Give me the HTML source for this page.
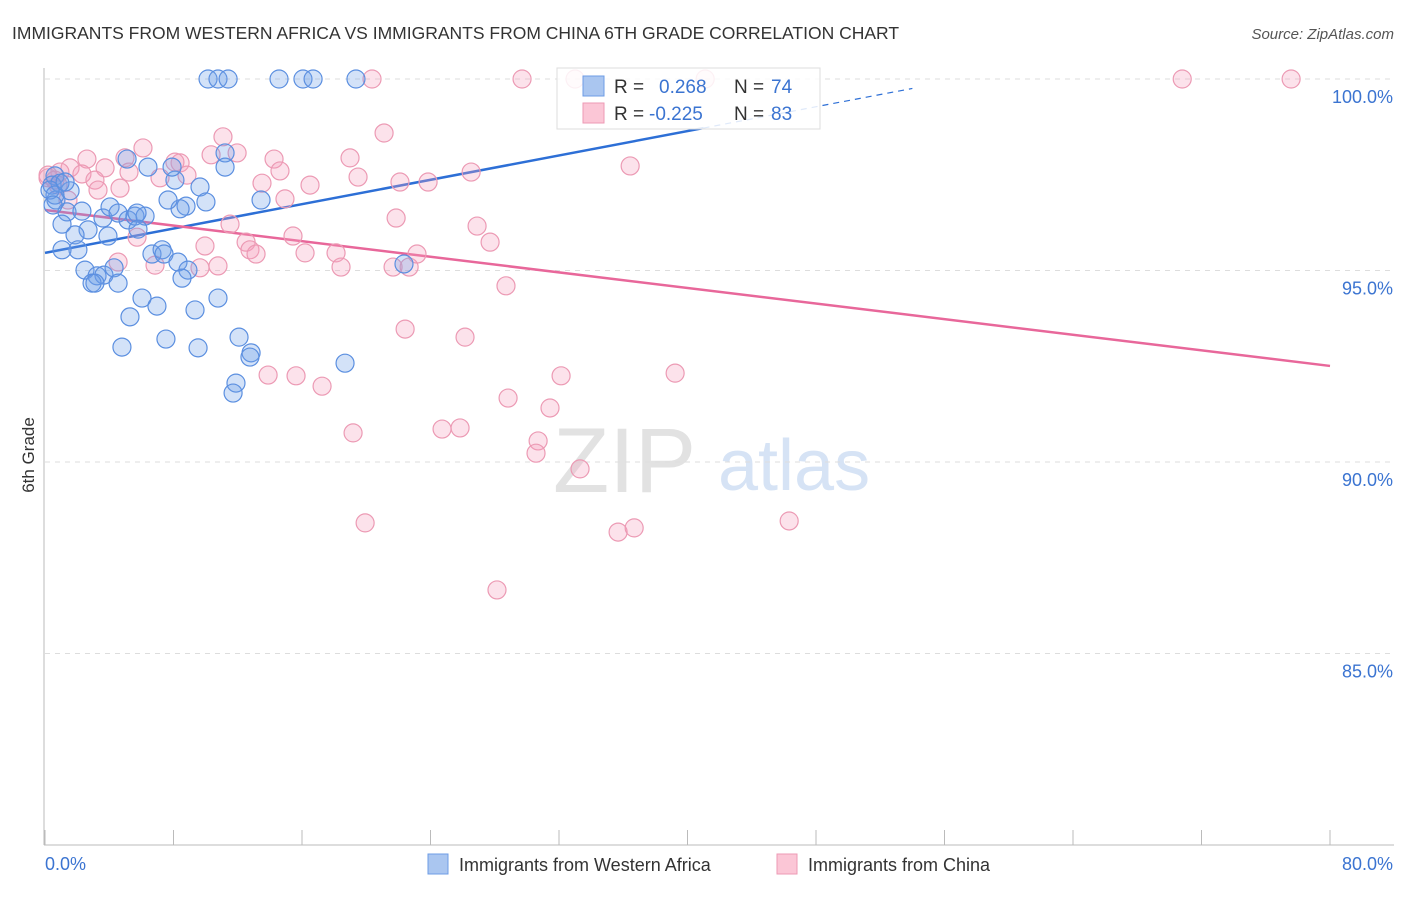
<!DOCTYPE html>
<html><head><meta charset="utf-8"><style>
body{margin:0;background:#fff;font-family:"Liberation Sans",sans-serif;}
svg text{font-family:"Liberation Sans",sans-serif;}
</style></head><body>
<svg id="chart" width="1406" height="892">
<text x="12" y="39" font-size="17.5" fill="#333">IMMIGRANTS FROM WESTERN AFRICA VS IMMIGRANTS FROM CHINA 6TH GRADE CORRELATION CHART</text>
<text x="1394" y="39" font-size="15" fill="#555" font-style="italic" text-anchor="end">Source: ZipAtlas.com</text>
<text transform="translate(34,455) rotate(-90)" font-size="17" fill="#333" text-anchor="middle">6th Grade</text>
<g><text x="553" y="492" font-size="92" fill="#e2e2e2" font-family="Liberation Serif">ZIP</text><text x="718" y="490" font-size="72" fill="#d6e3f5">atlas</text></g>
<g id="grid"></g><g id="axes"></g><g id="trend"></g><g id="pts"></g>
<g>
<rect x="557" y="68" width="263" height="61" fill="#fff" fill-opacity="0.85" stroke="#ddd"/>
<rect x="583" y="76" width="21" height="20" fill="#aac6f0" stroke="#6d9ce6"/>
<text x="614" y="93" font-size="19" fill="#333">R = </text><text x="659" y="93" font-size="19" fill="#3b74d1">0.268</text>
<text x="734" y="93" font-size="19" fill="#333">N = </text><text x="771" y="93" font-size="19" fill="#3b74d1">74</text>
<rect x="583" y="103" width="21" height="20" fill="#fbc6d6" stroke="#ee9ab4"/>
<text x="614" y="120" font-size="19" fill="#333">R = </text><text x="649" y="120" font-size="19" fill="#3b74d1">-0.225</text>
<text x="734" y="120" font-size="19" fill="#333">N = </text><text x="771" y="120" font-size="19" fill="#3b74d1">83</text>
</g>
<g>
<rect x="428" y="854" width="20" height="20" fill="#aac6f0" stroke="#6d9ce6"/>
<text x="459" y="871" font-size="18" fill="#333">Immigrants from Western Africa</text>
<rect x="777" y="854" width="20" height="20" fill="#fbc6d6" stroke="#ee9ab4"/>
<text x="808" y="871" font-size="18" fill="#333">Immigrants from China</text>
</g>
</svg>
<script>
const blueX=[10.15,10.77,11.40,14.57,16.06,16.69,19.36,5.11,11.21,6.41,8.09,9.65,7.91,11.21,13.45,10.02,8.78,8.41,7.66,0.62,0.44,0.68,1.56,1.37,2.30,1.06,2.68,1.87,3.61,4.05,4.55,5.17,5.60,6.23,5.73,5.79,3.92,2.05,1.06,2.49,3.24,3.67,2.93,3.11,4.30,4.55,6.04,6.97,5.29,9.34,10.77,7.53,4.79,9.53,6.66,7.29,7.41,8.28,8.90,8.53,12.08,12.83,12.76,11.89,11.71,18.68,22.35,0.93,0.31,0.62,1.25,0.50];
const blueY=[100,100,100,100,100,100,100,97.91,98.07,97.70,97.36,97.18,97.70,97.70,96.84,96.79,96.68,96.61,96.84,97.47,97.23,96.84,97.08,96.53,96.55,96.21,96.06,95.93,96.37,96.66,96.50,96.32,96.42,96.42,96.50,96.08,95.90,95.54,95.54,95.01,94.86,94.88,94.67,94.67,95.07,94.67,94.28,94.07,93.79,93.97,94.28,93.21,93.00,92.98,95.43,95.54,95.43,95.22,95.01,94.80,93.26,92.85,92.74,92.06,91.80,92.58,95.17,97.28,97.10,96.97,97.31,96.71];
const pinkX=[20.36,29.70,33.00,41.10,70.80,77.58,21.11,11.08,6.10,11.96,4.98,2.61,10.34,14.26,18.99,36.43,8.41,8.09,1.56,3.74,5.23,7.16,8.84,2.30,3.11,14.63,16.50,13.51,19.49,22.10,26.53,23.85,3.30,1.43,0.93,0.19,4.67,14.94,11.52,21.86,26.90,27.71,15.44,5.73,9.96,12.52,12.76,13.14,16.19,18.12,4.55,6.85,9.65,10.77,18.43,21.67,22.67,23.16,28.70,22.42,26.15,13.89,15.63,17.25,32.13,39.23,28.83,31.44,19.18,24.72,25.84,30.70,30.57,33.31,19.93,35.68,36.68,46.33,28.14,0.19,0.62,0.81];
const pinkY=[100,100,100,100,100,100,98.59,98.49,98.20,98.07,97.94,97.91,98.02,97.91,97.94,97.73,97.81,97.83,97.68,97.68,97.57,97.42,97.49,97.52,97.36,97.60,97.23,97.28,97.44,97.31,97.57,97.31,97.10,96.84,97.57,97.42,97.15,96.87,96.21,96.37,96.16,95.74,95.90,95.87,95.64,95.74,95.54,95.43,95.46,95.46,95.22,95.14,95.07,95.12,95.09,95.09,95.09,95.43,94.60,93.47,93.26,92.27,92.25,91.98,92.25,92.32,91.67,91.41,90.76,90.86,90.89,90.55,90.23,89.82,88.41,88.17,88.28,88.46,86.66,97.49,97.36,97.23];
const blueTrend=[95.46,0.0795];
const pinkTrend=[96.58,-0.0509];
const yTicks=[100,95,90,85];
const xTicks=[0,8,16,24,32,40,48,56,64,72,80];
const NS="http://www.w3.org/2000/svg";
const sx=v=>45+v*1285/80, sy=v=>79+(100-v)*38.3;
function mk(tag,attrs,parent){const e=document.createElementNS(NS,tag);for(const k in attrs)e.setAttribute(k,attrs[k]);document.getElementById(parent).appendChild(e);return e;}
for(const t of yTicks){
 const l=mk('line',{x1:45,x2:1394,y1:sy(t),y2:sy(t),stroke:'#ddd','stroke-dasharray':'5,5'},'grid');
 
 
 const tx=mk('text',{x:1393,y:sy(t)+24,'font-size':18,fill:'#3b74d1','text-anchor':'end'},'grid');
 tx.textContent=t.toFixed(1)+'%';
 
 
}
const ya=mk('line',{x1:44,x2:44,y1:68,y2:845,stroke:'#bbb'},'axes');


const xa=mk('line',{x1:44,x2:1394,y1:845,y2:845,stroke:'#bbb'},'axes');


for(const t of xTicks){
 const l=mk('line',{x1:sx(t),x2:sx(t),y1:830,y2:845,stroke:'#bbb'},'axes');
 
 
}
const xl0=mk('text',{x:45,y:870,'font-size':18,fill:'#3b74d1'},'axes');xl0.textContent='0.0%';


const xl1=mk('text',{x:1393,y:870,'font-size':18,fill:'#3b74d1','text-anchor':'end'},'axes');xl1.textContent='80.0%';


function pts(X,Y,fill,stroke,name){for(let i=0;i<X.length;i++){const c=mk('circle',{cx:sx(X[i]),cy:sy(Y[i]),r:9,fill:fill,stroke:stroke,'stroke-width':1.2},'pts');
 
 }}
pts(pinkX,pinkY,'rgba(244,160,188,0.3)','#ec9ab4','point-china');
pts(blueX,blueY,'rgba(110,160,232,0.3)','#5b8fe0','point-western-africa');
const b1=mk('line',{x1:sx(0),y1:sy(blueTrend[0]),x2:sx(41),y2:sy(blueTrend[0]+blueTrend[1]*41),stroke:'#2d6fd6','stroke-width':2.5},'trend');


const b2=mk('line',{x1:sx(41),y1:sy(blueTrend[0]+blueTrend[1]*41),x2:sx(54),y2:sy(blueTrend[0]+blueTrend[1]*54),stroke:'#2d6fd6','stroke-width':1.2,'stroke-dasharray':'6,5'},'trend');


const p1=mk('line',{x1:sx(0),y1:sy(pinkTrend[0]),x2:sx(80),y2:sy(pinkTrend[0]+pinkTrend[1]*80),stroke:'#e8679a','stroke-width':2.5},'trend');


</script>
</body></html>
